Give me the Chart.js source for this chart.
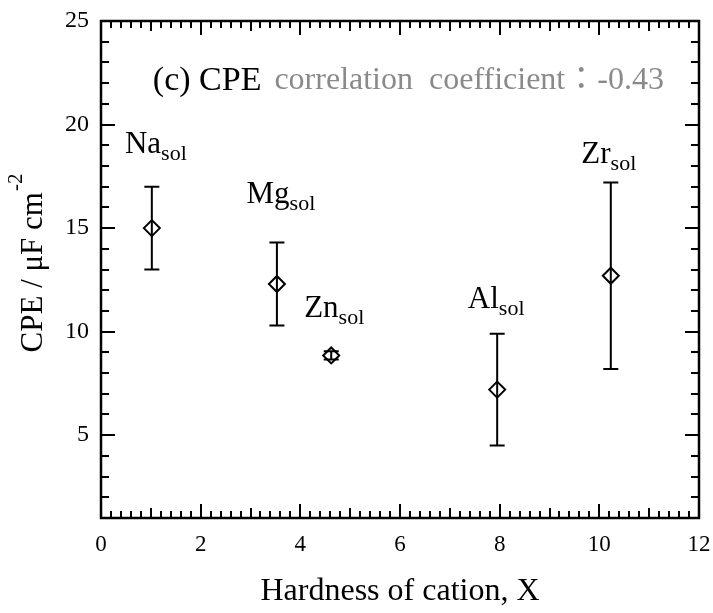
<!DOCTYPE html>
<html>
<head>
<meta charset="utf-8">
<script src="https://cdn.jsdelivr.net/npm/chart.js@4.4.1/dist/chart.umd.min.js"></script>
<style>
  html, body { margin: 0; padding: 0; background: #fff; }
  #wrap { width: 713px; height: 613px; }
</style>
</head>
<body>
<div id="wrap"><canvas id="chart" width="713" height="613"></canvas></div>
<script>
// values
const cations = ['Na', 'Mg', 'Zn', 'Al', 'Zr']
const hardness = [1.02, 3.53, 4.62, 7.95, 10.23]
const cpe = [15.0, 12.3, 8.85, 7.2, 12.7]
const cpeLow = [13.0, 10.3, 8.65, 4.5, 8.2]
const cpeHigh = [17.0, 14.3, 9.05, 9.9, 17.2]
const xTicks = [0, 2, 4, 6, 8, 10, 12]
const yTicks = [5, 10, 15, 20, 25]
const correlation = '-0.43'

const serif = '"Liberation Serif", "Times New Roman", serif'

// vertical error bars with caps
const errorBars = {
  id: 'errorBars',
  beforeDatasetsDraw(chart) {
    const { ctx, scales: { x, y } } = chart
    const cap = 7.5
    ctx.save()
    ctx.strokeStyle = '#000'
    ctx.lineWidth = 2
    hardness.forEach((h, i) => {
      const px = x.getPixelForValue(h)
      const top = y.getPixelForValue(cpeHigh[i])
      const bot = y.getPixelForValue(cpeLow[i])
      ctx.beginPath()
      ctx.moveTo(px, top)
      ctx.lineTo(px, bot)
      ctx.moveTo(px - cap, top)
      ctx.lineTo(px + cap, top)
      ctx.moveTo(px - cap, bot)
      ctx.lineTo(px + cap, bot)
      ctx.stroke()
    })
    ctx.restore()
  }
}

// box frame with inward ticks on all four sides
const frameTicks = {
  id: 'frameTicks',
  afterDraw(chart) {
    const { ctx, chartArea: a, scales: { x, y } } = chart
    ctx.save()
    ctx.strokeStyle = '#000'
    ctx.lineWidth = 2
    ctx.beginPath()
    for (let k = 1; k < 60; k++) {
      const v = k * 0.2
      const len = k % 10 === 0 ? 14 : (k % 5 === 0 ? 10 : 7)
      const px = Math.round(x.getPixelForValue(v))
      ctx.moveTo(px, a.bottom)
      ctx.lineTo(px, a.bottom - len)
      ctx.moveTo(px, a.top)
      ctx.lineTo(px, a.top + len)
    }
    for (let v = 2; v < 25; v++) {
      const len = v % 5 === 0 ? 14 : 8
      const py = Math.round(y.getPixelForValue(v))
      ctx.moveTo(a.left, py)
      ctx.lineTo(a.left + len, py)
      ctx.moveTo(a.right, py)
      ctx.lineTo(a.right - len, py)
    }
    ctx.stroke()
    ctx.lineWidth = 2.5
    ctx.strokeRect(a.left, a.top, a.right - a.left, a.bottom - a.top)
    ctx.restore()
  }
}

// Na_sol style labels, panel title, correlation note, y axis title
const annotations = {
  id: 'annotations',
  afterDraw(chart, args, opts) {
    const { ctx, chartArea: a, scales: { x, y } } = chart
    ctx.save()
    ctx.fillStyle = '#000'
    ctx.textBaseline = 'alphabetic'
    cations.forEach((name, i) => {
      ctx.font = `31px ${serif}`
      const w1 = ctx.measureText(name).width
      ctx.font = `22px ${serif}`
      const w2 = ctx.measureText('sol').width
      const cx = x.getPixelForValue(hardness[i]) + opts.labelDx[i]
      const base = y.getPixelForValue(cpeHigh[i]) - opts.labelGap[i]
      const left = cx - (w1 + w2) / 2
      ctx.textAlign = 'left'
      ctx.font = `31px ${serif}`
      ctx.fillText(name, left, base)
      ctx.font = `22px ${serif}`
      ctx.fillText('sol', left + w1, base + 7)
    })

    // panel title and correlation coefficient
    const tx = x.getPixelForValue(1.04)
    const ty = y.getPixelForValue(21.68)
    ctx.font = `34px ${serif}`
    ctx.textAlign = 'left'
    ctx.fillText('(c) CPE', tx, ty)
    const tw = ctx.measureText('(c) CPE').width
    ctx.fillStyle = '#8a8a8a'
    ctx.font = `32px ${serif}, "Noto Sans CJK JP"`
    ctx.fillText('correlation  coefficient：' + correlation, tx + tw + 13, ty - 1)

    // y axis title with superscript
    ctx.fillStyle = '#000'
    ctx.font = `31px ${serif}`
    const main = 'CPE / μF cm'
    const mw = ctx.measureText(main).width
    ctx.font = `21px ${serif}`
    const sw = ctx.measureText('-2').width
    ctx.translate(42, (a.top + a.bottom) / 2 - 6)
    ctx.rotate(-Math.PI / 2)
    const sx = -(mw + sw) / 2
    ctx.font = `31px ${serif}`
    ctx.fillText(main, sx, 0)
    ctx.font = `21px ${serif}`
    ctx.fillText('-2', sx + mw + 1, -20)
    ctx.restore()
  }
}

const points = hardness.map((h, i) => ({ x: h, y: cpe[i] }))

new Chart(document.getElementById('chart'), {
  type: 'scatter',
  data: {
    datasets: [{
      data: points,
      pointStyle: 'rectRot',
      pointRadius: 8,
      pointBorderWidth: 2,
      borderColor: '#000',
      backgroundColor: 'rgba(0,0,0,0)'
    }]
  },
  options: {
    responsive: false,
    animation: false,
    layout: { padding: { left: 0, top: 21, right: 14, bottom: 0 } },
    plugins: {
      legend: { display: false },
      tooltip: { enabled: false },
      annotations: {
        labelDx: [4, 4, 3, -1, -2],
        labelGap: [34, 40, 34, 26, 20]
      }
    },
    scales: {
      x: {
        type: 'linear',
        min: 0,
        max: 12,
        grid: { display: false },
        border: { display: false },
        afterBuildTicks: s => { s.ticks = xTicks.map(v => ({ value: v })) },
        afterFit: s => {
          s.height = 95
          s.paddingLeft = 0
          s.paddingRight = 0
        },
        ticks: {
          color: '#000',
          padding: 5,
          maxRotation: 0,
          font: { family: serif, size: 23 }
        },
        title: {
          display: true,
          text: 'Hardness of cation, X',
          color: '#000',
          padding: { top: 0, bottom: 2 },
          font: { family: serif, size: 32 }
        }
      },
      y: {
        type: 'linear',
        min: 1,
        max: 25,
        grid: { display: false },
        border: { display: false },
        afterBuildTicks: s => { s.ticks = yTicks.map(v => ({ value: v })) },
        afterFit: s => {
          s.width = 101
          s.paddingTop = 0
          s.paddingBottom = 0
        },
        ticks: {
          color: '#000',
          padding: 4,
          font: { family: serif, size: 24 }
        }
      }
    }
  },
  plugins: [errorBars, frameTicks, annotations]
})
</script>
</body>
</html>
